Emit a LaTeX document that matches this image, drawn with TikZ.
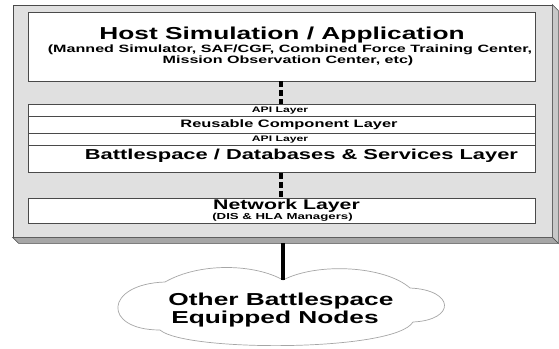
\documentclass[tikz,border=0pt]{standalone}
\usepackage{fontspec}
\newfontfamily\wfont{Liberation Sans}[UprightFont=* Bold, FakeStretch=1.52]
\definecolor{edge}{HTML}{4A4A4A}
\definecolor{faceF}{HTML}{E0E0E0}
\definecolor{faceR}{HTML}{C8C8C8}
\definecolor{faceB}{HTML}{A6A6A6}
\begin{document}
\begin{tikzpicture}[x=1pt,y=-1pt,
  frame/.style={draw=edge, fill=faceF, line width=0.8pt, minimum width=539pt, minimum height=232pt, inner sep=0pt},
  layer/.style={draw=edge, fill=white, line width=0.8pt, minimum width=507pt, inner sep=0pt},
  txt/.style={inner sep=0pt, anchor=base, text=black},
  fs/.style={font=\wfont\fontsize{#1}{#1}\selectfont},
  dashlink/.style={line width=3.6pt, dash pattern=on 6pt off 3pt, black},
  link/.style={line width=4pt, black}]
\useasboundingbox (0,0) rectangle (559,348);

% 3-D panel holding the software stack
\node[frame] (frame) at (282.5,121) {};
\filldraw[fill=faceR, draw=edge, line width=0.6pt]
  (frame.north east) -- ++(6,6) -- ([shift={(6,6)}]frame.south east) -- (frame.south east) -- cycle;
\filldraw[fill=faceB, draw=edge, line width=0.6pt]
  (frame.south west) -- ([shift={(6,6)}]frame.south west) -- ([shift={(6,6)}]frame.south east) -- (frame.south east) -- cycle;

% application box
\node[layer, minimum height=69pt] (host) at (281.5,46.5) {};
\node[txt, fs=17.3] (hostT) at (282,39) {Host Simulation / Application};
\node[txt, fs=10.6] (hostS1) at (290,52.7) {(Manned Simulator, SAF/CGF, Combined Force Training Center,};
\node[txt, fs=10.6] (hostS2) at (288,63.3) {Mission Observation Center, etc)};

% layered component stack
\node[layer, minimum height=12.5pt] (api1) at (281.5,110.25) {};
\node[layer, minimum height=16.5pt] (reuse) at (281.5,124.75) {};
\node[layer, minimum height=12pt] (api2) at (281.5,139) {};
\node[layer, minimum height=27.5pt] (bsl) at (281.5,158.75) {};
\node[txt, fs=8] (api1T) at (280,112.7) {API Layer};
\node[txt, fs=10.8] (reuseT) at (289,127.7) {Reusable Component Layer};
\node[txt, fs=8] (api2T) at (280,141.3) {API Layer};
\node[txt, fs=14.4] (bslT) at (301.5,159.5) {Battlespace / Databases \& Services Layer};

% network box
\node[layer, minimum height=25pt] (net) at (281.5,210.5) {};
\node[txt, fs=14] (netT) at (286.5,209.5) {Network Layer};
\node[txt, fs=8.7] (netS) at (282.5,219) {(DIS \& HLA Managers)};

% links between layers
\draw[dashlink] ([xshift=-0.5pt]host.south) -- ([xshift=-0.5pt]api1.north);
\draw[dashlink] ([xshift=-0.5pt]bsl.south) -- ([xshift=-0.5pt]net.north);

% cloud of remote nodes
\coordinate (cusp) at (283,280);
\filldraw[fill=white, draw=gray!70, line width=0.7pt]
  (cusp) .. controls (318,262) and (385,266) .. (410,288)
  .. controls (455,290) and (456,320) .. (413,322)
  .. controls (395,352) and (185,352) .. (160,330)
  .. controls (102,330) and (104,284) .. (165,282)
  .. controls (200,262) and (255,264) .. (cusp);
\node[txt, fs=17.3] (cloud1) at (281,305) {Other Battlespace};
\node[txt, fs=17.3] (cloud2) at (275,323) {Equipped Nodes};

\draw[link] ([shift={(0.5,6)}]frame.south) -- (cusp);
\end{tikzpicture}
\end{document}
